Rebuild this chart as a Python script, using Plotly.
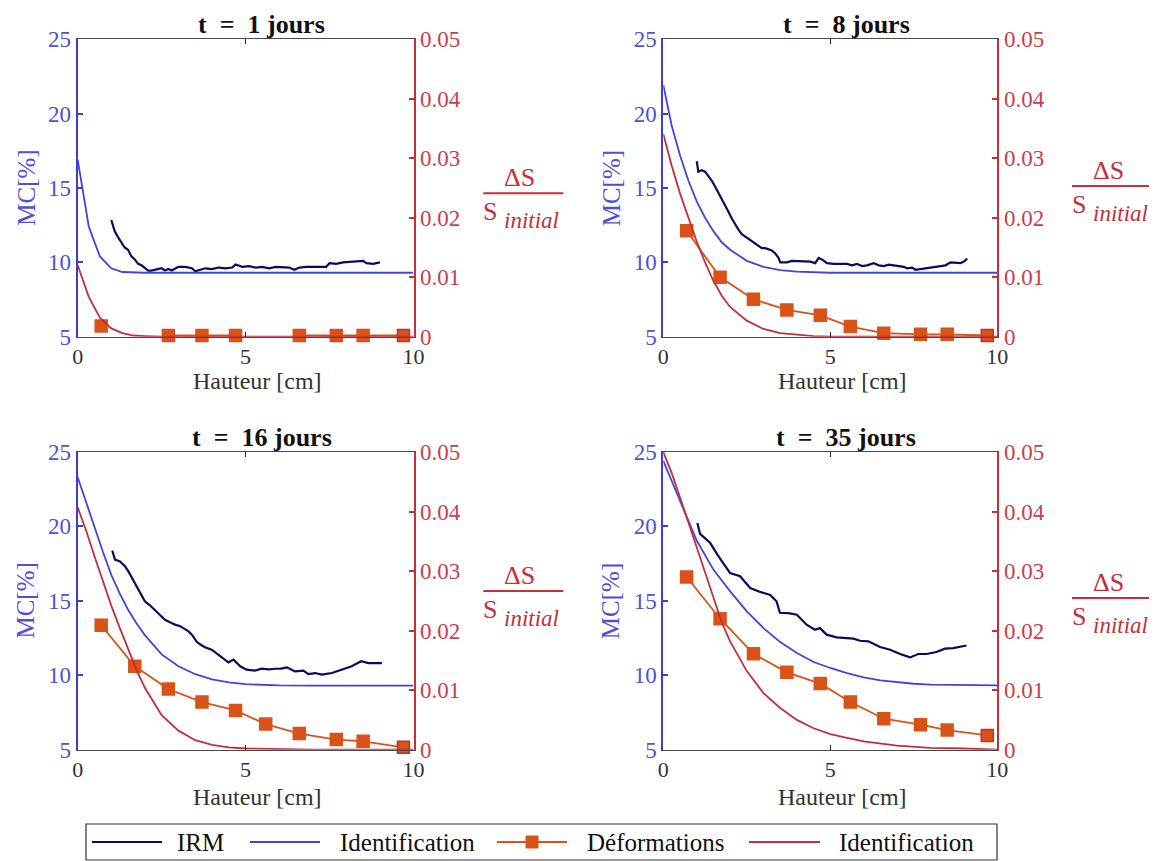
import plotly.graph_objects as go

W, H = 1157, 861
OFF = 8  # the page body places the figure 8 px from the window's top-left corner

# ---------------- data ----------------
titles = ["t\u2002=\u20021 jours", "t\u2002=\u20028 jours", "t\u2002=\u200216 jours", "t\u2002=\u200235 jours"]
x_label = "Hauteur [cm]"
y_label = "MC[%]"
legend_labels = ["IRM", "Identification", "Déformations", "Identification"]

x_ticks = [0, 5, 10]
mc_ticks = [5, 10, 15, 20, 25]
ds_ticks = [0, 0.01, 0.02, 0.03, 0.04, 0.05]
ds_ticktext = ["0", "0.01", "0.02", "0.03", "0.04", "0.05"]

# IRM measurements (MC %)
irm1_x = [1.00, 1.05, 1.10, 1.20, 1.30, 1.40, 1.50, 1.60, 1.70, 1.80, 1.90, 2.00, 2.10, 2.20, 2.40,
          2.50, 2.60, 2.70, 2.80, 3.00, 3.20, 3.40, 3.50, 3.60, 3.80, 4.00, 4.20, 4.40, 4.60, 4.70,
          4.90, 5.10, 5.30, 5.50, 5.70, 5.90, 6.10, 6.30, 6.45, 6.60, 6.80, 7.00, 7.20, 7.40, 7.50,
          7.70, 7.90, 8.10, 8.30, 8.50, 8.60, 8.80, 9.00]
irm1_y = [12.85, 12.5, 12.1, 11.7, 11.3, 11.0, 10.85, 10.4, 10.2, 9.9, 9.8, 9.6, 9.45, 9.45, 9.55,
          9.6, 9.45, 9.55, 9.45, 9.7, 9.7, 9.6, 9.4, 9.45, 9.6, 9.55, 9.65, 9.6, 9.65, 9.85,
          9.7, 9.75, 9.65, 9.7, 9.6, 9.7, 9.65, 9.65, 9.5, 9.65, 9.7, 9.7, 9.75, 9.7, 9.95,
          9.9, 10.0, 10.05, 10.05, 10.1, 9.95, 9.9, 10.0]

irm8_x = [1.00, 1.05, 1.15, 1.25, 1.35, 1.45, 1.55, 1.65, 1.75, 1.85, 1.95, 2.05, 2.15, 2.25, 2.35,
          2.45, 2.55, 2.65, 2.75, 2.85, 2.95, 3.05, 3.15, 3.25, 3.35, 3.45, 3.50, 3.60, 3.70, 3.85,
          4.00, 4.20, 4.40, 4.55, 4.65, 4.75, 4.90, 5.10, 5.30, 5.50, 5.65, 5.80, 5.95, 6.10, 6.30,
          6.45, 6.60, 6.75, 6.90, 7.05, 7.20, 7.30, 7.45, 7.55, 7.70, 7.85, 8.00, 8.15, 8.30, 8.45,
          8.60, 8.75, 8.90, 9.00, 9.10]
irm8_y = [16.8, 16.1, 16.2, 16.1, 15.8, 15.5, 15.1, 14.7, 14.25, 13.8, 13.4, 12.95, 12.55, 12.2, 11.9,
          11.75, 11.6, 11.45, 11.3, 11.1, 10.95, 10.95, 10.85, 10.8, 10.6, 10.3, 10.0, 10.0, 10.0, 10.1,
          10.1, 10.05, 10.05, 9.95, 10.3, 10.2, 9.95, 9.9, 9.9, 9.9, 9.8, 9.9, 9.75, 9.8, 9.95,
          9.8, 9.75, 9.85, 9.8, 9.75, 9.7, 9.6, 9.65, 9.5, 9.55, 9.65, 9.65, 9.75, 9.75, 9.8,
          10.0, 10.0, 9.95, 10.05, 10.25]

irm16_x = [1.03, 1.11, 1.26, 1.40, 1.51, 1.65, 1.76, 1.90, 2.00, 2.15, 2.30, 2.45, 2.60, 2.75, 2.90,
           3.05, 3.15, 3.30, 3.40, 3.55, 3.70, 3.79, 3.99, 4.15, 4.29, 4.49, 4.64, 4.84, 5.03, 5.28,
           5.48, 5.70, 5.88, 6.05, 6.23, 6.47, 6.72, 6.87, 7.07, 7.27, 7.57, 7.86, 8.16, 8.44, 8.66, 9.06]
irm16_y = [18.37, 17.77, 17.65, 17.35, 16.98, 16.4, 15.86, 15.3, 14.97, 14.7, 14.4, 14.05, 13.73, 13.55, 13.4,
           13.3, 13.17, 12.95, 12.73, 12.23, 12.0, 11.88, 11.72, 11.45, 11.16, 10.87, 11.05, 10.6, 10.38, 10.31,
           10.44, 10.4, 10.44, 10.45, 10.53, 10.26, 10.31, 10.08, 10.15, 10.04, 10.15, 10.38, 10.6, 10.94, 10.82, 10.82]

irm35_x = [1.02, 1.10, 1.40, 1.65, 2.00, 2.30, 2.60, 2.90, 3.20, 3.39, 3.49, 3.74, 4.00, 4.29, 4.54,
           4.69, 4.89, 5.19, 5.69, 5.89, 6.14, 6.49, 6.79, 7.09, 7.39, 7.63, 7.88, 8.18, 8.43, 8.68, 9.08]
irm35_y = [20.23, 19.5, 18.9, 18.0, 16.87, 16.65, 15.86, 15.6, 15.4, 14.97, 14.2, 14.18, 14.07, 13.4, 13.06,
           13.17, 12.73, 12.55, 12.46, 12.32, 12.28, 11.9, 11.72, 11.43, 11.2, 11.43, 11.43, 11.56, 11.79, 11.83, 12.0]

# Identification (MC %)
idmc1_x = [0, 0.33, 0.66, 1.0, 1.33, 1.66, 2.0, 3.0, 10.0]
idmc1_y = [16.9, 12.4, 10.4, 9.6, 9.35, 9.31, 9.3, 9.3, 9.3]

idmc8_x = [0, 0.25, 0.5, 0.75, 1.0, 1.25, 1.5, 1.75, 2.0, 2.5, 3.0, 3.5, 4.0, 4.5, 5.0, 10.0]
idmc8_y = [21.93, 19.2, 17.2, 15.5, 14.1, 13.0, 12.1, 11.35, 10.85, 10.1, 9.7, 9.47, 9.37, 9.32, 9.3, 9.3]

idmc16_x = [0, 0.25, 0.5, 0.75, 1.0, 1.25, 1.5, 1.75, 2.0, 2.5, 3.0, 3.5, 4.0, 4.5, 5.0, 5.5, 6.0, 7.0, 8.0, 10.0]
idmc16_y = [23.3, 21.6, 19.95, 18.3, 16.75, 15.5, 14.4, 13.5, 12.7, 11.4, 10.6, 10.07, 9.73, 9.52, 9.4, 9.34, 9.32, 9.31, 9.3, 9.3]

idmc35_x = [0, 0.25, 0.5, 0.75, 1.0, 1.5, 2.0, 2.5, 3.0, 3.5, 4.0, 4.5, 5.0, 5.5, 6.0, 6.5, 7.0, 7.5, 8.0, 9.0, 10.0]
idmc35_y = [24.4, 23.05, 21.7, 20.45, 19.05, 17.1, 15.64, 14.3, 13.17, 12.23, 11.5, 10.89, 10.49, 10.15, 9.86, 9.66,
            9.52, 9.43, 9.37, 9.32, 9.32]

# Déformations (ΔS / S_initial)
x_def = [0.7, 1.7, 2.7, 3.7, 4.7, 5.6, 6.6, 7.7, 8.5, 9.7]
def1 = [0.0018, None, 0.0002, 0.0002, 0.0002, None, 0.0002, 0.0002, 0.0002, 0.0002]
def8 = [0.0178, 0.0100, 0.0063, 0.0045, 0.0036, 0.0017, 0.0006, 0.0004, 0.0004, 0.0002]
def16 = [0.0209, 0.0140, 0.0102, 0.0080, 0.0066, 0.0043, 0.0027, 0.0017, 0.0014, 0.0004]
def35 = [0.0290, 0.0220, 0.0161, 0.0130, 0.0111, 0.0080, 0.0052, 0.0042, 0.0033, 0.0024]

# Identification (ΔS / S_initial)
idds1_x = [0, 0.33, 0.66, 1.0, 1.33, 1.66, 2.0, 2.5, 10.0]
idds1_y = [0.0120, 0.0067, 0.0032, 0.0014, 0.0006, 0.0002, 0.0001, 0.0, 0.0]

idds8_x = [0, 0.25, 0.5, 0.75, 1.0, 1.25, 1.5, 1.75, 2.0, 2.5, 3.0, 3.5, 4.0, 4.5, 5.0, 10.0]
idds8_y = [0.0341, 0.0288, 0.0241, 0.0200, 0.0160, 0.0125, 0.0094, 0.0069, 0.0050, 0.0027, 0.0013, 0.0006, 0.0003, 0.0001, 0.0, 0.0]

idds16_x = [0, 0.25, 0.5, 0.75, 1.0, 1.25, 1.5, 1.75, 2.0, 2.5, 3.0, 3.5, 4.0, 4.5, 5.0, 6.0, 7.0, 10.0]
idds16_y = [0.0407, 0.0368, 0.0325, 0.0283, 0.0242, 0.0205, 0.0170, 0.0134, 0.0104, 0.0058, 0.0032, 0.0016, 0.0008,
            0.0004, 0.0002, 0.0001, 0.0, 0.0]

idds35_x = [0, 0.25, 0.5, 0.75, 1.0, 1.25, 1.5, 1.75, 2.0, 2.5, 3.0, 3.5, 4.0, 4.5, 5.0, 5.5, 6.0, 7.0, 8.0, 9.0, 10.0]
idds35_y = [0.0500, 0.0465, 0.0424, 0.0381, 0.0339, 0.0297, 0.0256, 0.0214, 0.0182, 0.0132, 0.0095, 0.0070, 0.0050,
            0.0036, 0.0026, 0.0020, 0.0014, 0.0007, 0.0003, 0.0002, 0.0]

# ---------------- style ----------------
FONT = "Liberation Serif, DejaVu Serif, serif"
C_IRM = "#0b0b5c"
C_IDMC = "#4444dc"
C_DEF = "#d95319"
C_IDDS = "#c22f3b"
C_LEFT_AX = "#3c3cd6"
C_LEFT_TXT = "#4f4fdc"
C_RIGHT_AX = "#c42f3a"
C_RIGHT_TXT = "#c8404b"
C_DARK = "#262626"

# panel boxes in window pixels: (left, right, top, bottom)
boxes = [(77.7, 413.5, 39.3, 336.7), (663.3, 997.3, 39.3, 336.7),
         (77.7, 413.5, 452, 749.7), (663.3, 997.3, 452, 749.7)]
frac_bar_y = [193.3, 186, 591, 598]
frac_x0 = [483.3, 1072, 483.3, 1072]
xlabel_y = [381, 381, 797, 797]

panels = [
    (irm1_x, irm1_y, idmc1_x, idmc1_y, def1, idds1_x, idds1_y),
    (irm8_x, irm8_y, idmc8_x, idmc8_y, def8, idds8_x, idds8_y),
    (irm16_x, irm16_y, idmc16_x, idmc16_y, def16, idds16_x, idds16_y),
    (irm35_x, irm35_y, idmc35_x, idmc35_y, def35, idds35_x, idds35_y),
]


def px(x):
    return (x - OFF) / W


def py(y):
    return 1 - (y - OFF) / H


fig = go.Figure()
annotations = []
shapes = []
layout = {}

for i, (ix, iy, mx, my, dd, rx, ry) in enumerate(panels):
    xname = "xaxis" if i == 0 else f"xaxis{i + 1}"
    xref = "x" if i == 0 else f"x{i + 1}"
    yl_n = 2 * i + 1
    yr_n = 2 * i + 2
    ylname = "yaxis" if yl_n == 1 else f"yaxis{yl_n}"
    ylref = "y" if yl_n == 1 else f"y{yl_n}"
    yrname = f"yaxis{yr_n}"
    yrref = f"y{yr_n}"
    l, r, t, b = boxes[i]

    fig.add_trace(go.Scatter(x=ix, y=iy, mode="lines", line=dict(color=C_IRM, width=2.2),
                             xaxis=xref, yaxis=ylref, showlegend=False, name="IRM"))
    fig.add_trace(go.Scatter(x=mx, y=my, mode="lines", line=dict(color=C_IDMC, width=1.8),
                             xaxis=xref, yaxis=ylref, showlegend=False, name="Identification"))
    edge = [C_DEF] * (len(x_def) - 1) + [C_IDDS]
    fig.add_trace(go.Scatter(x=x_def, y=dd, mode="lines+markers", line=dict(color=C_DEF, width=1.8),
                             marker=dict(symbol="square", size=12, color=C_DEF,
                                         line=dict(color=edge, width=1.5)),
                             cliponaxis=False,
                             xaxis=xref, yaxis=yrref, showlegend=False, name="Déformations"))
    fig.add_trace(go.Scatter(x=rx, y=ry, mode="lines", line=dict(color=C_IDDS, width=1.8),
                             xaxis=xref, yaxis=yrref, showlegend=False, name="Identification"))

    layout[xname] = dict(domain=[px(l), px(r)], anchor=ylref, range=[0, 10], tickvals=x_ticks,
                         ticks="inside", ticklen=5, tickcolor=C_DARK, tickwidth=1,
                         showline=True, linecolor="#4a4a4a", linewidth=1.3, mirror="ticks",
                         showgrid=False, zeroline=False,
                         tickfont=dict(family=FONT, size=22, color="#333333"))
    layout[ylname] = dict(domain=[py(b), py(t)], anchor=xref, range=[5, 25], tickvals=mc_ticks,
                          ticks="inside", ticklen=5, tickcolor=C_LEFT_AX, tickwidth=1.5,
                          showline=True, linecolor=C_LEFT_AX, linewidth=2,
                          showgrid=False, zeroline=False,
                          tickfont=dict(family=FONT, size=23, color=C_LEFT_TXT))
    layout[yrname] = dict(domain=[py(b), py(t)], anchor=xref, overlaying=ylref, side="right",
                          range=[0, 0.05], tickvals=ds_ticks, ticktext=ds_ticktext,
                          ticks="inside", ticklen=5, tickcolor=C_RIGHT_AX, tickwidth=1.5,
                          showline=True, linecolor=C_RIGHT_AX, linewidth=2,
                          showgrid=False, zeroline=False,
                          tickfont=dict(family=FONT, size=23, color=C_RIGHT_TXT))

    cx = (l + r) / 2
    # subplot title
    annotations.append(dict(text="<b>" + titles[i] + "</b>", x=px(cx + 16), y=py(t - 15),
                            xref="paper", yref="paper", xanchor="center", yanchor="middle",
                            showarrow=False, font=dict(family=FONT, size=26, color="#111111")))
    # x title
    annotations.append(dict(text=x_label, x=px(cx + 12), y=py(xlabel_y[i]), xref="paper", yref="paper",
                            xanchor="center", yanchor="middle", showarrow=False,
                            font=dict(family=FONT, size=24, color="#333333")))
    # left y title
    annotations.append(dict(text=y_label, x=px(l - 52), y=py((t + b) / 2), xref="paper", yref="paper",
                            xanchor="center", yanchor="middle", showarrow=False, textangle=-90,
                            font=dict(family=FONT, size=25, color=C_LEFT_TXT)))
    # right y title as a fraction
    by = frac_bar_y[i]
    fx = frac_x0[i]
    shapes.append(dict(type="line", xref="paper", yref="paper",
                       x0=px(fx), x1=px(min(fx + 80, 1150)), y0=py(by), y1=py(by),
                       line=dict(color=C_RIGHT_AX, width=2)))
    annotations.append(dict(text="ΔS", x=px(fx + 36), y=py(by - 16), xref="paper", yref="paper",
                            xanchor="center", yanchor="middle", showarrow=False,
                            font=dict(family=FONT, size=26, color=C_RIGHT_AX)))
    annotations.append(dict(text="S", x=px(fx + 7), y=py(by + 18), xref="paper", yref="paper",
                            xanchor="center", yanchor="middle", showarrow=False,
                            font=dict(family=FONT, size=26, color=C_RIGHT_AX)))
    annotations.append(dict(text="<i>initial</i>", x=px(fx + 19), y=py(by + 27), xref="paper",
                            yref="paper", xanchor="left", yanchor="middle", showarrow=False,
                            font=dict(family=FONT, size=23, color=C_RIGHT_AX)))

# ---------------- legend (drawn) ----------------
leg_y = 842
shapes.append(dict(type="rect", xref="paper", yref="paper", x0=px(86), x1=px(997), y0=py(860), y1=py(824),
                   line=dict(color="#333333", width=1.2), fillcolor="white", layer="below"))
leg_items = [
    (92, 162, C_IRM, False, 200),
    (250, 320, C_IDMC, False, 407),
    (497, 567, C_DEF, True, 655),
    (749, 820, C_IDDS, False, 906),
]
for (x0, x1, col, mk, tx), lab in zip(leg_items, legend_labels):
    shapes.append(dict(type="line", xref="paper", yref="paper", x0=px(x0), x1=px(x1),
                       y0=py(leg_y), y1=py(leg_y), line=dict(color=col, width=2.2)))
    if mk:
        mc = (x0 + x1) / 2
        shapes.append(dict(type="rect", xref="paper", yref="paper", x0=px(mc - 6), x1=px(mc + 6),
                           y0=py(leg_y + 6), y1=py(leg_y - 6), line=dict(color=col, width=1),
                           fillcolor=col))
    annotations.append(dict(text=lab, x=px(tx), y=py(leg_y), xref="paper", yref="paper",
                            xanchor="center", yanchor="middle", showarrow=False,
                            font=dict(family=FONT, size=25, color="#111111")))

fig.update_layout(
    width=W, height=H, margin=dict(l=0, r=0, t=0, b=0, autoexpand=False),
    paper_bgcolor="white", plot_bgcolor="white",
    font=dict(family=FONT, size=20),
    showlegend=False,
    annotations=annotations, shapes=shapes,
    **layout,
)

fig.write_html("out.html")
